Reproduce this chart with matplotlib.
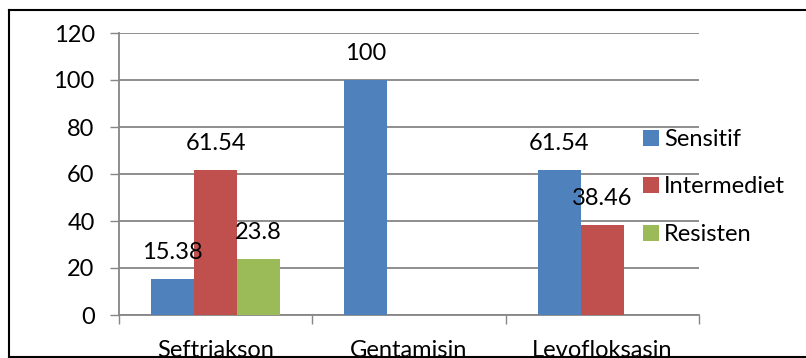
import matplotlib
matplotlib.use("Agg")
import matplotlib.pyplot as plt
from matplotlib.lines import Line2D
import numpy as np

plt.rcParams['font.family'] = ['Lato', 'DejaVu Sans']

categories = ["Seftriakson", "Gentamisin", "Levofloksasin"]
series_names = ["Sensitif", "Intermediet", "Resisten"]
sensitif = [15.38, 100, 61.54]
intermediet = [61.54, 0, 38.46]
resisten = [23.8, 0, 0]
colors = ["#4F81BD", "#C0504D", "#9BBB59"]
y_ticks = [0, 20, 40, 60, 80, 100, 120]

W, H = 806, 358
fig = plt.figure(figsize=(W / 100, H / 100), dpi=100)
fig.patch.set_facecolor("white")

# plot area in pixel coordinates
left, right, top, bottom = 119, 699, 33, 315
ax = fig.add_axes([left / W, (H - bottom) / H, (right - left) / W, (bottom - top) / H])

fs = 17
gray = "#868686"
x = np.arange(len(categories))
bw = 0.2228
for i, (vals, name, c) in enumerate(zip([sensitif, intermediet, resisten], series_names, colors)):
    pos = x + (i - 1) * bw
    ax.bar(pos, vals, width=bw, color=c, label=name, zorder=3)
    for p, v in zip(pos, vals):
        if v:
            ax.annotate(f"{v:g}", xy=(p, v), xytext=(0, 19), textcoords="offset points",
                        ha="center", va="center", fontsize=fs, color="black", zorder=4)

ax.set_xlim(-0.5, 2.5)
ax.set_ylim(0, 120)
ax.set_yticks(y_ticks)
ax.set_yticklabels([str(t) for t in y_ticks], fontsize=fs)
ax.tick_params(axis="y", length=6.5, width=1.0, color=gray, pad=11)
ax.yaxis.grid(True, color=gray, linewidth=1.3, zorder=0)
ax.set_axisbelow(True)

# boundary ticks between categories, labels at centers
ax.set_xticks([-0.5, 0.5, 1.5, 2.5])
ax.set_xticklabels([])
ax.tick_params(axis="x", which="major", length=6.5, width=1.0, color=gray)
ax.set_xticks(x, minor=True)
ax.set_xticklabels(categories, minor=True, fontsize=fs)
ax.tick_params(axis="x", which="minor", length=0, pad=18)

for s in ["top", "right"]:
    ax.spines[s].set_visible(False)
for s in ["left", "bottom"]:
    ax.spines[s].set_color(gray)
    ax.spines[s].set_linewidth(1.3)

ax.legend(loc="upper left", bbox_to_anchor=(643 / W, (H - 129) / H),
          bbox_transform=fig.transFigure, frameon=False, fontsize=fs,
          handlelength=0.68, handleheight=0.68, handletextpad=0.22,
          labelspacing=1.12, borderaxespad=0, borderpad=0)

# outer chart border
lw = 1.5
fig.add_artist(Line2D([9 / W, 9 / W], [(H - 10) / H, (H - 356.5) / H], color="black", lw=lw, transform=fig.transFigure))
fig.add_artist(Line2D([9 / W, 1], [(H - 10) / H, (H - 10) / H], color="black", lw=lw, transform=fig.transFigure))
fig.add_artist(Line2D([9 / W, 1], [(H - 356.5) / H, (H - 356.5) / H], color="black", lw=lw, transform=fig.transFigure))

fig.savefig("out.png", dpi=100)
